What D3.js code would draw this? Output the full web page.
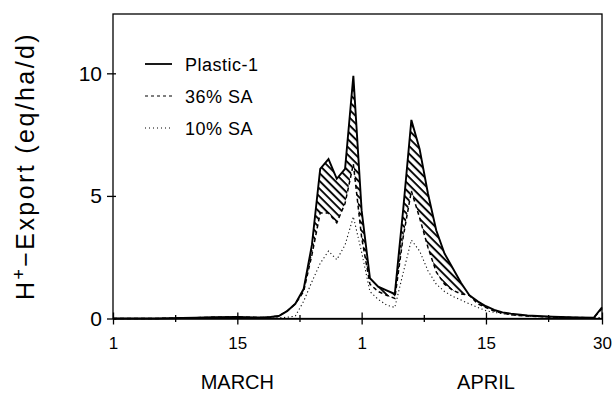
<!DOCTYPE html>
<html>
<head>
<meta charset="utf-8">
<script src="https://cdn.jsdelivr.net/npm/d3@7"></script>
<style>
  body { margin: 0; background: #fff; }
  svg { display: block; font-family: "Liberation Sans", Arial, sans-serif; }
</style>
</head>
<body>
<div id="chart"></div>
<script>
// days counted from 1 March (0) to 30 April (59)
var days = [0, 5, 10, 12, 15, 18, 19, 20, 21, 22, 23, 24, 25, 26, 27, 28, 29, 30, 31, 32, 33, 34,
            35, 36, 37, 38, 39, 40, 41, 42, 43, 44, 45, 46, 47, 48, 50, 53, 56, 58, 59];

var plastic1 = [0, 0, 0.03, 0.05, 0.06, 0.04, 0.06, 0.1, 0.3, 0.6, 1.2, 3.0, 6.1, 6.5, 5.7, 6.1, 9.9, 4.4, 1.65, 1.3, 1.15, 1.0,
                4.4, 8.1, 6.9, 5.1, 3.6, 2.65, 2.05, 1.45, 0.95, 0.7, 0.5, 0.35, 0.25, 0.2, 0.12, 0.07, 0.04, 0.03, 0.45];
var sa36 = [0, 0, 0.03, 0.05, 0.06, 0.04, 0.06, 0.1, 0.3, 0.6, 1.1, 2.6, 4.3, 4.3, 3.9, 4.7, 6.3, 3.3, 1.4, 1.1, 0.95, 0.82,
            3.3, 5.2, 4.1, 2.9, 1.9, 1.4, 1.15, 1.0, 0.95, 0.6, 0.45, 0.3, 0.22, 0.15, 0.1, 0.06, 0.04, 0.03, 0.4];
var sa10 = [0, 0, 0, 0.01, 0.02, 0.02, 0.02, 0.03, 0.05, 0.1, 0.7, 1.5, 2.25, 2.75, 2.4, 3.0, 4.15, 2.7, 1.1, 0.78, 0.55, 0.45,
            1.85, 3.2, 2.75, 1.95, 1.4, 1.1, 0.9, 0.75, 0.6, 0.45, 0.32, 0.25, 0.2, 0.15, 0.1, 0.05, 0.03, 0.02, 0.05];

var xTickValues = [0, 7.5, 15, 22.5, 30, 37.5, 45, 52.5, 59];
var xTickLabels = ["1", "", "15", "", "1", "", "15", "", "30"];
var yTickValues = [0, 5, 10];
var months = [{ name: "MARCH", day: 15 }, { name: "APRIL", day: 45 }];
var legendItems = [
  { name: "Plastic-1", dash: null, width: 1.8 },
  { name: "36% SA", dash: "3,3", width: 1.2 },
  { name: "10% SA", dash: "1,3", width: 1 }
];

var W = 616, H = 394;
var plotL = 113, plotR = 602, plotT = 14, plotB = 318.5;

var x = d3.scaleLinear().domain([0, 59]).range([plotL, plotR]);
var y = d3.scaleLinear().domain([0, 12.42]).range([plotB, plotT]);

var svg = d3.select("#chart").append("svg")
    .attr("width", W)
    .attr("height", H);

// hatch pattern "\\\\"
var defs = svg.append("defs");
var pat = defs.append("pattern")
    .attr("id", "hatch")
    .attr("patternUnits", "userSpaceOnUse")
    .attr("width", 5.5)
    .attr("height", 5.5)
    .attr("patternTransform", "rotate(45)");
pat.append("line")
    .attr("x1", 0).attr("y1", 1)
    .attr("x2", 5.5).attr("y2", 1)
    .attr("stroke", "#000")
    .attr("stroke-width", 1.9);

var pts = days.map(function(d, i) {
  return { d: d, p: plastic1[i], s36: sa36[i], s10: sa10[i] };
});

var area = d3.area()
    .x(function(d) { return x(d.d); })
    .y0(function(d) { return y(Math.min(d.s36, d.p)); })
    .y1(function(d) { return y(d.p); });

svg.append("path")
    .datum(pts)
    .attr("d", area)
    .attr("fill", "url(#hatch)");

function lineFor(key) {
  return d3.line()
      .x(function(d) { return x(d.d); })
      .y(function(d) { return y(d[key]); });
}

svg.append("path")
    .datum(pts)
    .attr("d", lineFor("s10"))
    .attr("fill", "none")
    .attr("stroke", "#111")
    .attr("stroke-width", 1.1)
    .attr("stroke-dasharray", "1.2,2.6");

svg.append("path")
    .datum(pts)
    .attr("d", lineFor("s36"))
    .attr("fill", "none")
    .attr("stroke", "#000")
    .attr("stroke-width", 1.5)
    .attr("stroke-dasharray", "4,3");

svg.append("path")
    .datum(pts)
    .attr("d", lineFor("p"))
    .attr("fill", "none")
    .attr("stroke", "#000")
    .attr("stroke-width", 1.9);

// frame
svg.append("rect")
    .attr("x", plotL).attr("y", plotT)
    .attr("width", plotR - plotL).attr("height", plotB - plotT)
    .attr("fill", "none")
    .attr("stroke", "#000")
    .attr("stroke-width", 1.3);

// x axis
var xAxis = d3.axisBottom(x)
    .tickValues(xTickValues)
    .tickFormat(function(d, i) { return xTickLabels[i]; })
    .tickSizeOuter(0);
var gx = svg.append("g")
    .attr("transform", "translate(0," + plotB + ")")
    .call(xAxis);
gx.select(".domain").attr("stroke", "#000").attr("stroke-width", 1.6);
gx.selectAll(".tick line")
    .attr("stroke", "#000")
    .attr("stroke-width", 1.3)
    .attr("y1", function(d, i) { return xTickLabels[i] ? -6 : -3.5; })
    .attr("y2", function(d, i) { return xTickLabels[i] ? 6 : 3.5; });
gx.selectAll(".tick text")
    .attr("y", 18)
    .attr("fill", "#000")
    .style("font-size", "17px")
    .style("font-family", "Liberation Sans, Arial, sans-serif");

// y axis
var yAxis = d3.axisLeft(y)
    .tickValues(yTickValues)
    .tickSize(6)
    .tickPadding(5)
    .tickSizeOuter(0);
var gy = svg.append("g")
    .attr("transform", "translate(" + plotL + ",0)")
    .call(yAxis);
gy.select(".domain").remove();
gy.selectAll(".tick line")
    .attr("stroke", "#000")
    .attr("stroke-width", 1.3)
    .attr("x2", 3)
    .attr("x1", -6);
gy.selectAll(".tick text")
    .attr("x", -11)
    .attr("fill", "#000")
    .style("font-size", "21px")
    .style("font-family", "Liberation Sans, Arial, sans-serif");

// month labels
svg.selectAll(".month")
    .data(months)
    .enter().append("text")
    .attr("class", "month")
    .attr("x", function(d) { return x(d.day); })
    .attr("y", 389)
    .attr("text-anchor", "middle")
    .style("font-size", "20px")
    .text(function(d) { return d.name; });

// y title
var yt = svg.append("text")
    .attr("transform", "translate(34,166) rotate(-90)")
    .attr("text-anchor", "middle")
    .style("font-size", "25px")
    .style("letter-spacing", "2.4px");
yt.append("tspan").text("H");
yt.append("tspan").attr("dy", -9).style("font-size", "18px").text("+");
yt.append("tspan").attr("dy", 9).text("\u2212Export (eq/ha/d)");

// legend
var leg = svg.selectAll(".leg")
    .data(legendItems)
    .enter().append("g")
    .attr("class", "leg")
    .attr("transform", function(d, i) { return "translate(145," + (64 + i * 32) + ")"; });
leg.append("line")
    .attr("x1", 0).attr("x2", 27)
    .attr("stroke", "#000")
    .attr("stroke-width", function(d) { return d.width; })
    .attr("stroke-dasharray", function(d) { return d.dash; });
leg.append("text")
    .attr("x", 40)
    .attr("y", 6.5)
    .style("font-size", "18px")
    .style("letter-spacing", "0.5px")
    .text(function(d) { return d.name; });
</script>
</body>
</html>
